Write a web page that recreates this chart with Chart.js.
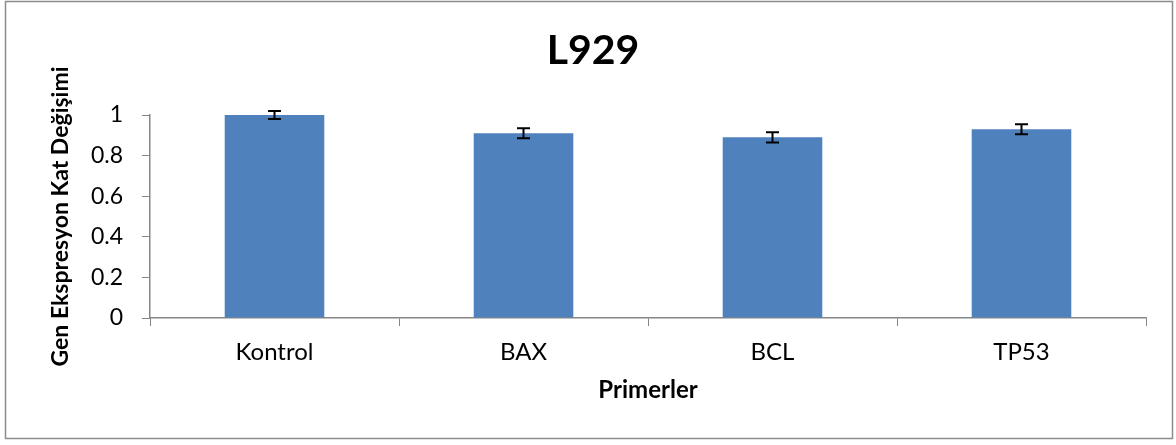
<!DOCTYPE html>
<html>
<head>
<meta charset="utf-8">
<script src="https://cdn.jsdelivr.net/npm/chart.js@4.4.1/dist/chart.umd.min.js"></script>
<style>
    html, body { margin: 0; padding: 0; background: #fff; }
    #wrap { width: 1176px; height: 445px; }
</style>
</head>
<body>
<div id="wrap"><canvas id="geneChart" width="1176" height="445"></canvas></div>
<script>
// ========== DATA ==========
const primers = ['Kontrol', 'BAX', 'BCL', 'TP53'];
const foldChange = [1.0, 0.91, 0.89, 0.93];
const foldError = [0.02, 0.025, 0.025, 0.025];

const FONT = 'Lato, "Liberation Sans", sans-serif';
const AXIS_GRAY = '#868686';

// ========== PLUGINS ==========
// white page + grey frame round the whole chart
const framePlugin = {
    id: 'frame',
    beforeDraw(chart) {
        const ctx = chart.ctx;
        ctx.save();
        ctx.fillStyle = '#fff';
        ctx.fillRect(0, 0, chart.width, chart.height);
        ctx.strokeStyle = '#8c8c8c';
        ctx.lineWidth = 1.5;
        ctx.strokeRect(5.5, 1.5, chart.width - 9, chart.height - 8);
        ctx.restore();
    }
};

// +/- error whiskers on each bar
const errorBarPlugin = {
    id: 'errorBars',
    afterDatasetsDraw(chart) {
        const ctx = chart.ctx;
        const yScale = chart.scales.y;
        const meta = chart.getDatasetMeta(0);
        ctx.save();
        ctx.strokeStyle = '#000';
        ctx.lineWidth = 2;
        meta.data.forEach((bar, i) => {
            const hi = yScale.getPixelForValue(foldChange[i] + foldError[i]);
            const lo = yScale.getPixelForValue(foldChange[i] - foldError[i]);
            const cap = 6.5;
            ctx.beginPath();
            ctx.moveTo(bar.x, hi);
            ctx.lineTo(bar.x, lo);
            ctx.moveTo(bar.x - cap, hi);
            ctx.lineTo(bar.x + cap, hi);
            ctx.moveTo(bar.x - cap, lo);
            ctx.lineTo(bar.x + cap, lo);
            ctx.stroke();
        });
        ctx.restore();
    }
};

// ========== CHART ==========
new Chart(document.getElementById('geneChart').getContext('2d'), {
    type: 'bar',
    data: {
        labels: primers,
        datasets: [{
            data: foldChange,
            backgroundColor: '#4f81bd',
            borderWidth: 0,
            categoryPercentage: 0.4,
            barPercentage: 1.0
        }]
    },
    options: {
        responsive: false,
        animation: false,
        layout: { padding: { left: 40, right: 30, bottom: 40, top: 0 } },
        plugins: {
            legend: { display: false },
            tooltip: { enabled: false },
            title: {
                display: true,
                text: 'L929',
                color: '#000',
                font: { family: FONT, size: 41, weight: 'bold' },
                padding: { top: 26.4, bottom: 39.4 }
            }
        },
        scales: {
            x: {
                afterFit: s => { s.height = 87; },
                grid: { drawOnChartArea: false, drawTicks: true, tickLength: 8, color: AXIS_GRAY, lineWidth: 1 },
                border: { color: AXIS_GRAY, width: 1.5 },
                ticks: { color: '#000', padding: 12, font: { family: FONT, size: 24 } },
                title: {
                    display: true,
                    text: 'Primerler',
                    color: '#000',
                    font: { family: FONT, size: 24, weight: 'bold' },
                    padding: { top: 0, bottom: 0 }
                }
            },
            y: {
                min: 0,
                max: 1,
                afterFit: s => { s.width = 110; },
                grid: { drawOnChartArea: false, drawTicks: true, tickLength: 8, color: AXIS_GRAY, lineWidth: 1 },
                border: { color: AXIS_GRAY, width: 1.5 },
                ticks: {
                    stepSize: 0.2,
                    color: '#000',
                    padding: 19,
                    font: { family: FONT, size: 23 },
                    callback: v => String(Number(v.toFixed(1)))
                },
                title: {
                    display: true,
                    text: 'Gen Ekspresyon Kat Değişimi',
                    color: '#000',
                    font: { family: FONT, size: 23, weight: 'bold' },
                    padding: { top: 7, bottom: 0 }
                }
            }
        }
    },
    plugins: [framePlugin, errorBarPlugin]
});
</script>
</body>
</html>
